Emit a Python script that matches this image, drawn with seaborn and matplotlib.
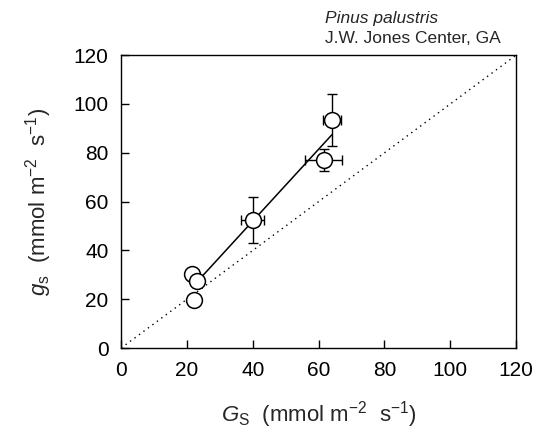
import seaborn as sns
import matplotlib.pyplot as plt
import numpy as np
import pandas as pd

# canopy-scale (Gs) vs leaf-scale (gs) conductance
Gs = [64.0, 61.5, 40.0, 21.5, 23.0, 22.0]
gs = [93.5, 77.0, 52.5, 30.5, 27.5, 19.5]
Gs_err = [2.8, 5.6, 3.5, 0.0, 0.0, 0.0]
gs_err = [10.6, 4.6, 9.5, 0.0, 2.5, 0.0]
fit_range = [23.0, 64.0]
one_to_one = [0, 120]
ticks = [0, 20, 40, 60, 80, 100, 120]

sns.set_style("ticks")
plt.rcParams['font.family'] = ['Liberation Sans', 'DejaVu Sans']
plt.rcParams['mathtext.fontset'] = 'custom'
plt.rcParams['mathtext.rm'] = 'Liberation Sans'
plt.rcParams['mathtext.it'] = 'Liberation Sans:italic'

df = pd.DataFrame({'Gs': Gs, 'gs': gs})

fig, ax = plt.subplots(figsize=(5.36, 4.34), dpi=100)
fig.subplots_adjust(left=0.226, right=0.963, top=0.873, bottom=0.198)

# 1:1 line
sns.lineplot(x=one_to_one, y=one_to_one, ax=ax, color='black', lw=1.0,
             linestyle=(0, (1, 3)), zorder=1)

# regression line
slope, icpt = np.polyfit(Gs, gs, 1)
xf = np.array(fit_range)
sns.lineplot(x=xf, y=slope * xf + icpt, ax=ax, color='black', lw=1.1, zorder=2)

ax.errorbar(Gs, gs, xerr=Gs_err, yerr=gs_err, fmt='none', ecolor='black',
            elinewidth=1.0, capsize=3.8, capthick=1.0, zorder=3)
sns.scatterplot(data=df, x='Gs', y='gs', ax=ax, s=130, color='white',
                edgecolor='black', linewidth=1.1, zorder=4)

ax.set_xlim(0, 120)
ax.set_ylim(0, 120)
ax.set_xticks(ticks)
ax.set_yticks(ticks)
ax.tick_params(direction='in', length=6, width=1, labelsize=15, pad=9,
               colors='black')
for s in ax.spines.values():
    s.set_visible(True)
    s.set_linewidth(1.0)
    s.set_color('black')

ax.set_xlabel(r'$G_{\mathrm{S}}$  (mmol m$^{-2}$  s$^{-1}$)', fontsize=16,
              labelpad=14)
ax.set_ylabel(r'$g_{\mathrm{s}}$  (mmol m$^{-2}$  s$^{-1}$)', fontsize=16,
              labelpad=14)

ax.text(0.516, 1.1, 'Pinus palustris', transform=ax.transAxes,
        fontsize=12.5, style='italic', ha='left', va='bottom')
ax.text(0.516, 1.03, 'J.W. Jones Center, GA', transform=ax.transAxes,
        fontsize=12.5, ha='left', va='bottom')

fig.savefig('out.png', dpi=100)
